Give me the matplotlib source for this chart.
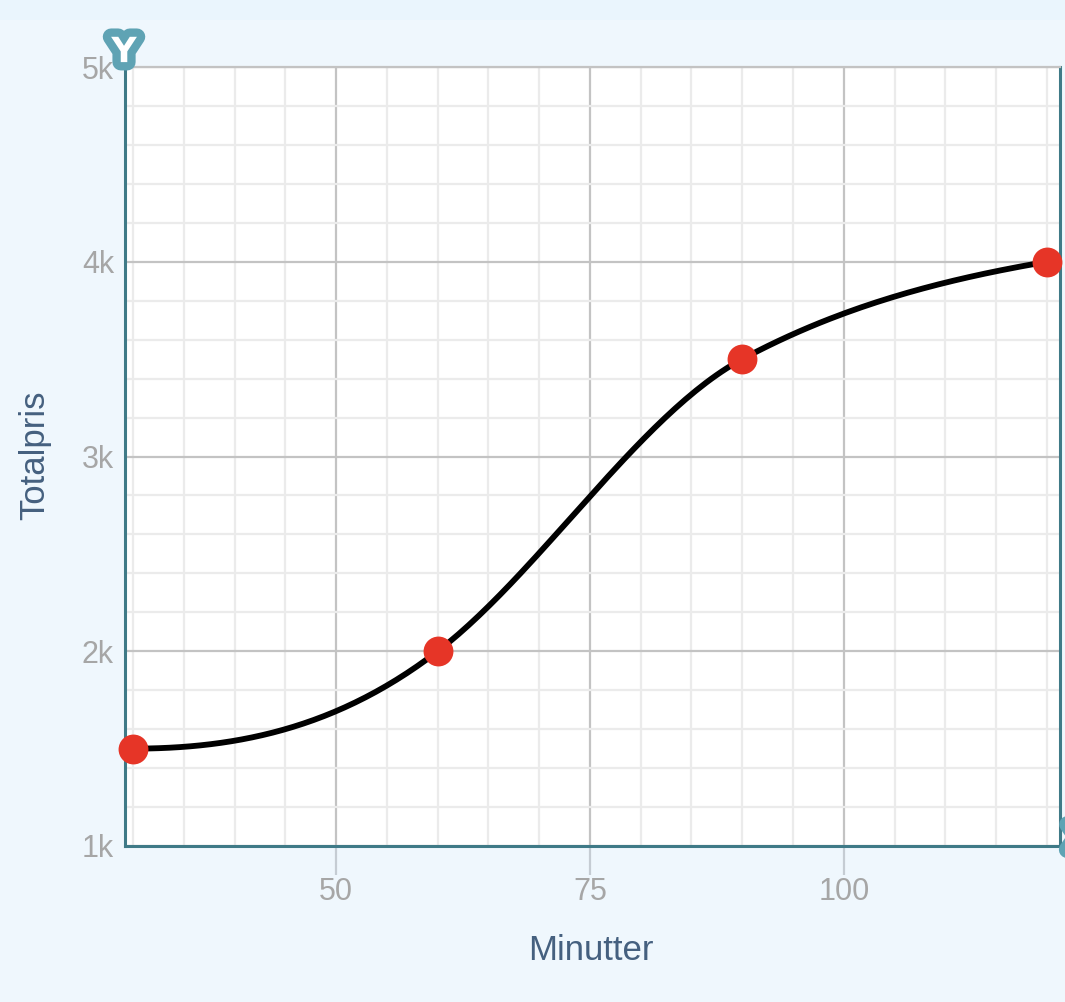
import numpy as np
import matplotlib.pyplot as plt
import matplotlib.patheffects as pe
from matplotlib.ticker import MultipleLocator, FuncFormatter
from matplotlib.patches import Rectangle

# data
minutes = [30, 60, 90, 120]
total_price = [1500, 2000, 3500, 4000]
# slope of the drawn curve at each point
curve_slopes = [0, 40, 28, 9]

x_label = 'Minutter'
y_label = 'Totalpris'

bg_color = '#eff7fd'
spine_color = '#3f7a87'
tick_color = '#a6a6a6'
label_color = '#45607f'
dot_color = '#e63527'
badge_color = '#5fa3b4'
text_font = ['Liberation Sans', 'DejaVu Sans']


def hermite_curve(xs, ys, slopes, n=60):
    # cubic hermite segments through the points
    xs = np.asarray(xs, float)
    ys = np.asarray(ys, float)
    t = np.asarray(slopes, float)
    h = np.diff(xs)
    out_x, out_y = [], []
    for i in range(len(h)):
        u = np.linspace(0, 1, n)
        h00 = 2 * u**3 - 3 * u**2 + 1
        h10 = u**3 - 2 * u**2 + u
        h01 = -2 * u**3 + 3 * u**2
        h11 = u**3 - u**2
        out_x.extend(xs[i] + u * h[i])
        out_y.extend(h00 * ys[i] + h10 * h[i] * t[i] + h01 * ys[i + 1] + h11 * h[i] * t[i + 1])
    return np.array(out_x), np.array(out_y)


plt.rcParams['font.family'] = text_font

fig = plt.figure(figsize=(10.65, 10.02), dpi=100, facecolor=bg_color)
fig.patches.append(Rectangle((0, 0.98), 1, 0.02, transform=fig.transFigure,
                             facecolor='#eaf5fd', edgecolor='none', zorder=0))
ax = fig.add_axes([0.1174, 0.1557, 0.8779, 0.7774])
ax.set_facecolor('white')

ax.set_xlim(29.2, 121.3)
ax.set_ylim(1000, 5000)
ax.xaxis.set_major_locator(MultipleLocator(25))
ax.xaxis.set_minor_locator(MultipleLocator(5))
ax.yaxis.set_major_locator(MultipleLocator(1000))
ax.yaxis.set_minor_locator(MultipleLocator(200))
ax.yaxis.set_major_formatter(FuncFormatter(lambda v, p: f'{int(v / 1000)}k'))

ax.grid(which='major', color='#c3c3c3', linewidth=1.6, zorder=0)
ax.grid(which='minor', color='#ebebeb', linewidth=1.6, zorder=0)
ax.set_axisbelow(True)

for side in ['left', 'bottom', 'right']:
    ax.spines[side].set_color(spine_color)
    ax.spines[side].set_linewidth(2.2)
ax.spines['top'].set_color('#c3c3c3')
ax.spines['top'].set_linewidth(1.6)

ax.tick_params(axis='x', which='major', length=21, width=1.6, color='#c5ccd3',
               labelsize=22, labelcolor=tick_color, pad=1)
ax.tick_params(axis='y', which='major', length=0, labelsize=22, labelcolor=tick_color, pad=8)
ax.tick_params(which='minor', length=0)
for lbl in ax.get_yticklabels():
    lbl.set_verticalalignment('center_baseline')

cx, cy = hermite_curve(minutes, total_price, curve_slopes)
ax.plot(cx, cy, color='black', linewidth=4.2, solid_capstyle='round', zorder=3)
ax.plot(minutes, total_price, 'o', color=dot_color, markersize=21.5, markeredgewidth=0,
        zorder=4, clip_on=False)

fig.text(0.555, 0.051, x_label, ha='center', va='center', fontsize=25, color=label_color)
fig.text(0.033, 0.546, y_label, ha='center', va='center', fontsize=25,
         color=label_color, rotation=90)

# axis badges
badge = [pe.withStroke(linewidth=12, foreground=badge_color)]
fig.text(0.1165, 0.948, 'Y', ha='center', va='center', fontsize=25, fontweight='bold',
         color='white', path_effects=badge, family='DejaVu Sans')
fig.text(1.014, 0.162, 'X', ha='center', va='center', fontsize=25, fontweight='bold',
         color='white', path_effects=badge, family='DejaVu Sans')

fig.savefig('out.png', dpi=100, facecolor=bg_color)
